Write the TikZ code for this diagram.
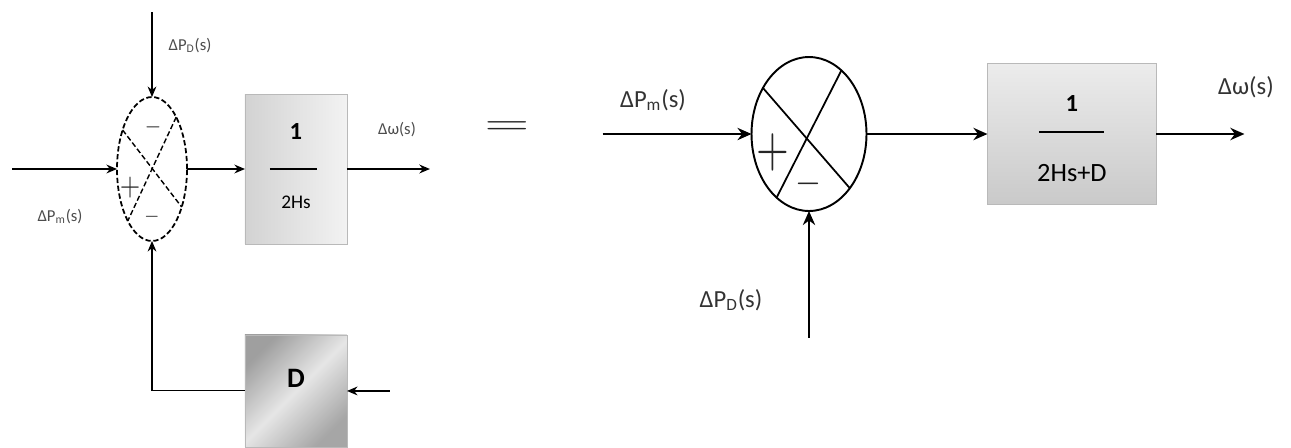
\documentclass[tikz,border=0pt]{standalone}
\usepackage{fontspec}
\setmainfont{Carlito}
\usetikzlibrary{positioning, arrows.meta, shapes.geometric, calc}

\begin{document}
\begin{tikzpicture}[
            x=0.02cm, y=-0.02cm,
            sum node/.style={ellipse, draw, inner sep=0pt, outer sep=0pt},
            gain block/.style={rectangle, draw=gray!55, line width=0.3pt, inner sep=0pt, outer sep=0pt},
            sig arrow/.style={-{Stealth[length=8pt, width=7pt]}, line width=1.2pt},
            small arrow/.style={-{Stealth[length=6pt, width=5pt]}, line width=1pt},
            sig label/.style={font=\fontsize{14}{16}\selectfont, text=black!80},
            small label/.style={font=\fontsize{9.5}{11}\selectfont, text=gray!60!black},
            sign/.style={inner sep=0pt, text=black!85}
        ]
            \useasboundingbox (0,0) rectangle (1291,447);

            % --- Left diagram: summing point with feedback ---
            \node[sum node, dash pattern=on 3pt off 1.5pt, line width=1pt,
                  minimum width=1.4cm, minimum height=2.88cm] (sumL) at (152,169) {};
            \draw[dash pattern=on 3pt off 1.5pt, line width=0.8pt] (sumL.127) -- (sumL.-52);
            \draw[dash pattern=on 3pt off 1.5pt, line width=0.8pt] (sumL.65) -- (sumL.245);
            \node[gain block, left color=gray!35, right color=gray!10,
                  minimum width=2.04cm, minimum height=3cm, right=1.16cm of sumL] (gainL) {};
            \node[gain block, top color=gray!75, bottom color=gray!70, middle color=gray!20, shading angle=45,
                  minimum width=2.04cm, minimum height=2.24cm, below=1.82cm of gainL] (damp) {};
            \coordinate[left=2.1cm of sumL] (inL);
            \coordinate[above=1.7cm of sumL] (distL);
            \coordinate[right=1.66cm of gainL] (outL);
            \coordinate[right=0.86cm of damp] (inD);

            % signs and block texts
            \node[sign] (mTopL) at (153,127) {\scalebox{1.2}[1.4]{$-$}};
            \node[sign] (pL) at (130,188) {\scalebox{1.5}[1.8]{$+$}};
            \node[sign] (mBotL) at (152,217) {\scalebox{1.1}[1.3]{$-$}};
            \node[font=\fontsize{14}{16}\selectfont\bfseries] (numL) at ($(gainL)+(0,-37)$) {1};
            \draw[line width=1pt] ($(gainL)+(-26,0)$) -- ($(gainL)+(21,0)$);
            \node[font=\fontsize{11}{13}\selectfont] (denL) at ($(gainL)+(0,33)$) {2Hs};
            \node[font=\fontsize{16}{18}\selectfont\bfseries] (dL) at ($(damp)+(0,-13)$) {D};

            % --- Left arrows ---
            \draw[small arrow] (inL) -- (sumL);
            \draw[small arrow, line width=0.6pt] (distL) -- (sumL);
            \draw[small arrow] (sumL) -- (gainL);
            \draw[small arrow] (gainL) -- (outL);
            \draw[small arrow] (inD) -- (damp);
            \draw[small arrow, line width=0.6pt] (damp.west) -| (sumL.south);

            % labels
            \node[small label] (pdL) at (190,46) {ΔP\textsubscript{D}(s)};
            \node[small label] (pmL) at (60,217) {ΔP\textsubscript{m}(s)};
            \node[small label] (wL) at (397,130) {Δω(s)};

            % --- Equals ---
            \node[sign] (eq) at (507,128) {\scalebox{3.3}[2]{$=$}};

            % --- Right diagram: reduced form ---
            \node[sum node, line width=1.1pt, minimum width=2.3cm, minimum height=3.08cm] (sumR) at (809,134) {};
            \draw[line width=1pt] (sumR.135) -- (sumR.-53);
            \draw[line width=1pt] (sumR.63) -- (sumR.243);
            \node[gain block, top color=gray!15, bottom color=gray!42,
                  minimum width=3.38cm, minimum height=2.82cm, right=2.42cm of sumR] (gainR) {};
            \coordinate[left=2.98cm of sumR] (inR);
            \coordinate[right=1.76cm of gainR] (outR);
            \coordinate[below=2.54cm of sumR] (distR);

            \node[sign] (pR) at (773,152) {\scalebox{2.4}[3.2]{$+$}};
            \node[sign] (mR) at (808,184) {\scalebox{1.9}[2.2]{$-$}};
            \node[font=\fontsize{14}{16}\selectfont\bfseries] (numR) at ($(gainR)+(0,-30)$) {1};
            \draw[line width=1.2pt] ($(gainR)+(-33,-2)$) -- ($(gainR)+(32,-2)$);
            \node[font=\fontsize{15}{17}\selectfont] (denR) at ($(gainR)+(0,39)$) {2Hs+D};

            \draw[sig arrow] (inR) -- (sumR);
            \draw[sig arrow] (distR) -- (sumR);
            \draw[sig arrow] (sumR) -- (gainR);
            \draw[sig arrow] (gainR) -- (outR);

            \node[sig label] (pmR) at (653,100) {ΔP\textsubscript{m}(s)};
            \node[sig label] (pdR) at (731,300) {ΔP\textsubscript{D}(s)};
            \node[sig label] (wR) at (1246,87) {Δω(s)};

        \end{tikzpicture}
\end{document}
